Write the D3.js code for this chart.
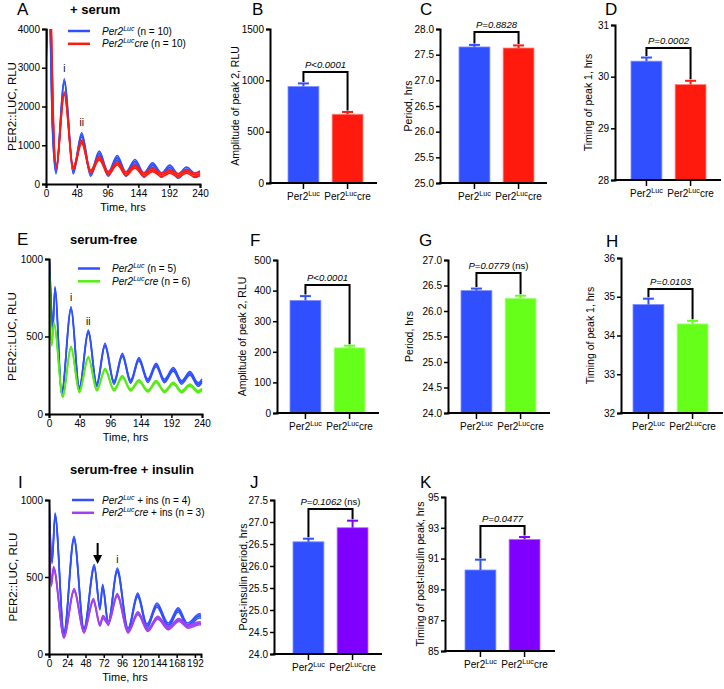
<!DOCTYPE html>
<html><head><meta charset="utf-8">
<script src="https://cdn.jsdelivr.net/npm/d3@7"></script>
<style>
body{margin:0;background:#fff}
text{font-family:Arial,"Liberation Sans",sans-serif}
</style></head>
<body><svg id="fig" width="724" height="689"></svg>
<script>
// ---------------- DATA ----------------
// Panel A (+ serum) time courses: hours / RLU
const aLucT = [0, 3, 6, 10, 15.6, 28.5, 42.5, 55.6, 69.6, 83, 97, 111, 124.6, 138.6, 152.6, 166, 180, 193, 206, 219, 232, 240];
const aLucV = [4300, 5200, 4400, 1500, 320, 2660, 320, 1265, 258, 792, 258, 680, 258, 575, 232, 490, 232, 430, 206, 378, 225, 280];
const aCreT = [0, 2, 5, 8, 11, 16, 28.5, 42.5, 55.6, 69.6, 83, 97, 111, 124.6, 138.6, 152.6, 166, 180, 193, 206, 219, 232, 240];
const aCreV = [3100, 4100, 5000, 4200, 1900, 450, 2340, 405, 1092, 318, 663, 276, 533, 262, 447, 240, 361, 232, 318, 225, 318, 235, 258];
const aLucSem = 60, aCreSem = 45;
// Panel E (serum-free)
const eLucT = [0, 2.5, 5.8, 9.4, 19.9, 34.5, 47.6, 61.7, 74.8, 87.8, 102, 115, 128, 141, 155, 168, 181, 195, 208, 221, 234, 240];
const eLucV = [1050, 800, 542, 811, 133, 682, 165, 531, 187, 445, 202, 381, 209, 353, 215, 316, 213, 288, 204, 262, 190, 215];
const eCreT = [0, 4.2, 7.8, 21.5, 34.5, 47.6, 61.7, 75, 88, 102, 115, 128, 141, 155, 168, 181, 195, 208, 221, 234, 240];
const eCreV = [1000, 445, 585, 112, 430, 144, 365, 155, 288, 155, 241, 155, 215, 148, 209, 144, 198, 144, 187, 144, 159];
const eLucSem = 12, eCreSem = 7;
// Panel I (serum-free + insulin)
const iLucT = [0, 4, 8, 19.7, 32.9, 46, 59.6, 67, 70.6, 78, 89.8, 104, 116.6, 129, 142, 157, 170, 182, 198, 200];
const iLucV = [1000, 600, 902, 134, 751, 156, 567, 300, 440, 199, 545, 156, 383, 182, 318, 188, 286, 188, 247, 245];
const iCreT = [0, 3, 6, 19.7, 33, 46, 58.4, 67, 71, 78, 89.8, 104, 117, 130, 143, 157, 171, 183, 198, 200];
const iCreV = [900, 448, 558, 112, 415, 145, 350, 190, 240, 200, 383, 145, 264, 156, 236, 167, 221, 177, 199, 197];
const iLucSem = 14, iCreSem = 10;
const insulinHour = 64;

// Bar panels
const groups = ["Per2Luc", "Per2Luccre"];
const bMeans = [940, 670],   bErr = [30, 22],   bP = "P<0.0001";
const cMeans = [27.65, 27.63], cErr = [0.04, 0.05], cP = "P=0.8828";
const dMeans = [30.30, 29.85], dErr = [0.07, 0.07], dP = "P=0.0002";
const fMeans = [368, 213],   fErr = [14, 7],    fP = "P<0.0001";
const gMeans = [26.40, 26.25], gErr = [0.04, 0.05], gP = "P=0.0779";
const hMeans = [34.80, 34.30], hErr = [0.15, 0.08], hP = "P=0.0103";
const jMeans = [26.55, 26.87], jErr = [0.07, 0.16], jP = "P=0.1062";
const kMeans = [90.26, 92.25], kErr = [0.67, 0.15], kP = "P=0.0477";

// tick values
const tsTicks240 = [0, 48, 96, 144, 192, 240];
const tsTicks192 = [0, 24, 48, 72, 96, 120, 144, 168, 192];

// ---------------- STYLE ----------------
const C = {
  blue: "#3050ff", blueBand: "#95a6ff",
  red: "#ff1a0d", redBand: "#ff9a90",
  greenLine: "#55ee11", greenBar: "#66ff1a", greenBand: "#b4ff8a",
  purpleLine: "#a040f0", purpleBar: "#7f00ff", purpleBand: "#d6aaff"
};
const svg = d3.select("#fig");
svg.append("rect").attr("width", 724).attr("height", 689).attr("fill", "#fff");

function styleAxis(g) {
  g.selectAll("path.domain").attr("stroke", "#000").attr("stroke-width", 2);
  g.selectAll(".tick line").attr("stroke", "#000").attr("stroke-width", 1.5);
  g.selectAll(".tick text").attr("font-size", 10).attr("fill", "#000").attr("font-family", "Arial, 'Liberation Sans', sans-serif");
}

function letter(txt, x, y) {
  svg.append("text").attr("x", x).attr("y", y).attr("font-size", 17).attr("fill", "#000").text(txt);
}

function yTitle(txt, x, yc, size) {
  svg.append("text").attr("transform", `translate(${x},${yc}) rotate(-90)`)
    .attr("text-anchor", "middle").attr("dy", "0.35em").attr("font-size", size || 10.5).attr("fill", "#000").text(txt);
}

function groupLabel(sel, name, size) {
  sel.text(null);
  sel.append("tspan").text("Per2");
  sel.append("tspan").attr("font-size", size * 0.72).attr("dy", -size * 0.4).text("Luc");
  if (name.endsWith("cre")) sel.append("tspan").attr("font-size", size).attr("dy", size * 0.4).text("cre");
}

// ---------------- TIME SERIES ----------------
function timePanel(cfg) {
  const x = d3.scaleLinear().domain(cfg.xDomain).range([cfg.x0, cfg.x1]);
  const y = d3.scaleLinear().domain(cfg.yDomain).range([cfg.yBot, cfg.yTop]);
  const clipId = "clip" + cfg.id;
  svg.append("clipPath").attr("id", clipId).append("rect")
    .attr("x", cfg.x0).attr("y", cfg.yTop).attr("width", cfg.x1 - cfg.x0 + 6).attr("height", cfg.yBot - cfg.yTop);
  const plot = svg.append("g").attr("clip-path", `url(#${clipId})`);
  cfg.series.forEach(s => {
    const pts = s.t.map((t, i) => ({ t, v: s.v[i] }));
    const area = d3.area().x(d => x(d.t)).y0(d => y(d.v - s.sem)).y1(d => y(d.v + s.sem)).curve(d3.curveMonotoneX);
    const line = d3.line().x(d => x(d.t)).curve(d3.curveMonotoneX);
    plot.append("path").datum(pts).attr("d", area).attr("fill", s.band);
    plot.append("path").datum(pts).attr("d", line.y(d => y(d.v + s.sem))).attr("fill", "none").attr("stroke", s.color).attr("stroke-width", 1.4);
    plot.append("path").datum(pts).attr("d", line.y(d => y(d.v - s.sem))).attr("fill", "none").attr("stroke", s.color).attr("stroke-width", 1.4);
    plot.append("path").datum(pts).attr("d", line.y(d => y(d.v))).attr("fill", "none").attr("stroke", s.color).attr("stroke-width", 1.8);
  });
  const gx = svg.append("g").attr("transform", `translate(0,${cfg.yBot})`)
    .call(d3.axisBottom(x).tickValues(cfg.xTicks).tickFormat(d3.format("d")).tickSizeOuter(0).tickSize(4).tickPadding(2));
  styleAxis(gx);
  const gy = svg.append("g").attr("transform", `translate(${cfg.x0},0)`)
    .call(d3.axisLeft(y).tickValues(cfg.yTicks).tickFormat(d3.format("d")).tickSizeOuter(0).tickSize(4).tickPadding(2));
  styleAxis(gy);
  svg.append("text").attr("x", (cfg.x0 + cfg.x1) / 2).attr("y", cfg.yBot + 27)
    .attr("text-anchor", "middle").attr("font-size", 11).attr("fill", "#000").text("Time, hrs");
  yTitle("PER2::LUC, RLU", cfg.titleX, (cfg.yTop + cfg.yBot) / 2, 11.5);
  // legend
  cfg.series.forEach((s, i) => {
    const ly = cfg.legY + i * 12.8;
    svg.append("line").attr("x1", cfg.legX).attr("x2", cfg.legX + 22).attr("y1", ly).attr("y2", ly)
      .attr("stroke", s.color).attr("stroke-width", 2.5);
    const t = svg.append("text").attr("x", cfg.legTextX).attr("y", ly + 3.5).attr("font-size", 10).attr("fill", "#000");
    t.append("tspan").attr("font-style", "italic").text("Per2");
    t.append("tspan").attr("font-style", "italic").attr("font-size", 7).attr("dy", -4).text("Luc");
    if (i === 1) t.append("tspan").attr("font-style", "italic").attr("dy", 4).text("cre");
    t.append("tspan").attr("dy", i === 1 ? 0 : 4).text(" " + s.legendTail);
  });
  // peak annotations
  (cfg.peaks || []).forEach(p => {
    svg.append("text").attr("x", x(p.t)).attr("y", y(p.v) - 4).attr("text-anchor", "middle")
      .attr("font-size", 10).attr("fill", "#000").text(p.label);
  });
  return { x, y };
}

const A = timePanel({
  id: "A", x0: 46, x1: 200, yTop: 29, yBot: 184, xDomain: [0, 240], yDomain: [0, 4000],
  xTicks: tsTicks240, yTicks: [0, 1000, 2000, 3000, 4000], titleX: 12,
  legX: 68, legY: 31, legTextX: 102,
  series: [
    { t: aLucT, v: aLucV, sem: aLucSem, color: C.blue, band: C.blueBand, legendTail: "(n = 10)" },
    { t: aCreT, v: aCreV, sem: aCreSem, color: C.red, band: C.redBand, legendTail: "(n = 10)" }
  ],
  peaks: [{ t: aLucT[5], v: aLucV[5] + 120, label: "i" }, { t: aLucT[7], v: aLucV[7] + 120, label: "ii" }]
});
letter("A", 17, 15);
svg.append("text").attr("x", 70).attr("y", 14).attr("font-size", 13).attr("font-weight", "bold").attr("fill", "#000").text("+ serum");

const E = timePanel({
  id: "E", x0: 49, x1: 202, yTop: 259, yBot: 414, xDomain: [0, 240], yDomain: [0, 1000],
  xTicks: tsTicks240, yTicks: [0, 500, 1000], titleX: 12,
  legX: 78, legY: 268.5, legTextX: 112,
  series: [
    { t: eLucT, v: eLucV, sem: eLucSem, color: C.blue, band: C.blueBand, legendTail: "(n = 5)" },
    { t: eCreT, v: eCreV, sem: eCreSem, color: C.greenLine, band: C.greenBand, legendTail: "(n = 6)" }
  ],
  peaks: [{ t: eLucT[5], v: eLucV[5] + 20, label: "i" }, { t: eLucT[7], v: eLucV[7] + 20, label: "ii" }]
});
letter("E", 17, 245);
svg.append("text").attr("x", 70).attr("y", 244).attr("font-size", 13).attr("font-weight", "bold").attr("fill", "#000").text("serum-free");

const I = timePanel({
  id: "I", x0: 49, x1: 201, yTop: 500, yBot: 654, xDomain: [0, 200], yDomain: [0, 1000],
  xTicks: tsTicks192, yTicks: [0, 500, 1000], titleX: 13,
  legX: 72, legY: 500, legTextX: 102,
  series: [
    { t: iLucT, v: iLucV, sem: iLucSem, color: C.blue, band: C.blueBand, legendTail: "+ ins (n = 4)" },
    { t: iCreT, v: iCreV, sem: iCreSem, color: C.purpleLine, band: C.purpleBand, legendTail: "+ ins  (n = 3)" }
  ],
  peaks: [{ t: iLucT[10], v: iLucV[10] + 22, label: "i" }]
});
letter("I", 18, 488);
svg.append("text").attr("x", 70).attr("y", 474).attr("font-size", 13).attr("font-weight", "bold").attr("fill", "#000").text("serum-free + insulin");
// insulin arrow
{
  const ax = I.x(insulinHour);
  svg.append("line").attr("x1", ax).attr("x2", ax).attr("y1", 543).attr("y2", 557).attr("stroke", "#000").attr("stroke-width", 2);
  svg.append("path").attr("d", `M${ax - 4.5},555 L${ax + 4.5},555 L${ax},564 Z`).attr("fill", "#000");
}

// ---------------- BAR PANELS ----------------
function barPanel(cfg) {
  const y = d3.scaleLinear().domain(cfg.yDomain).range([cfg.yBot, cfg.yTop]);
  const x = d3.scaleBand().domain(groups).range([cfg.x0 + cfg.offset, cfg.x0 + cfg.offset + 75]).paddingInner(0.3);
  const g = svg.append("g");
  groups.forEach((gname, i) => {
    const m = cfg.means[i], e = cfg.errs[i];
    const cx = x(gname) + x.bandwidth() / 2;
    g.append("rect").attr("x", x(gname)).attr("y", y(m)).attr("width", x.bandwidth()).attr("height", cfg.yBot - y(m))
      .attr("fill", cfg.colors[i]).attr("stroke", cfg.edge[i]).attr("stroke-width", 0.8);
    g.append("line").attr("x1", cx).attr("x2", cx).attr("y1", y(m)).attr("y2", y(m + e)).attr("stroke", cfg.colors[i]).attr("stroke-width", 2);
    g.append("line").attr("x1", cx - 5.5).attr("x2", cx + 5.5).attr("y1", y(m + e)).attr("y2", y(m + e)).attr("stroke", cfg.colors[i]).attr("stroke-width", 2);
  });
  // bracket
  const c1 = x(groups[0]) + x.bandwidth() / 2, c2 = x(groups[1]) + x.bandwidth() / 2;
  const e1 = y(cfg.means[0] + cfg.errs[0]) - 1.5, e2 = y(cfg.means[1] + cfg.errs[1]) - 1.5;
  g.append("path").attr("d", `M${c1},${e1} V${cfg.bracketY} H${c2} V${e2}`)
    .attr("fill", "none").attr("stroke", "#000").attr("stroke-width", 2);
  const pt = g.append("text").attr("x", (c1 + c2) / 2).attr("y", cfg.bracketY - 4).attr("text-anchor", "middle").attr("font-size", 9.5).attr("fill", "#000");
  pt.append("tspan").attr("font-style", "italic").text(cfg.p);
  if (cfg.ns) pt.append("tspan").text(" (ns)");
  // axes
  const gy = svg.append("g").attr("transform", `translate(${cfg.x0},0)`)
    .call(d3.axisLeft(y).tickValues(cfg.ticks).tickFormat(d3.format(cfg.fmt)).tickSizeOuter(0).tickSize(4).tickPadding(2));
  styleAxis(gy);
  svg.append("line").attr("x1", cfg.x0 - 1).attr("x2", cfg.x0 + cfg.axisLen).attr("y1", cfg.yBot).attr("y2", cfg.yBot)
    .attr("stroke", "#000").attr("stroke-width", 2);
  const gx = svg.append("g").attr("transform", `translate(0,${cfg.yBot})`)
    .call(d3.axisBottom(x).tickSizeOuter(0).tickSize(6).tickPadding(4));
  gx.select("path.domain").remove();
  styleAxis(gx);
  gx.selectAll(".tick text").attr("font-size", 10).each(function (d) { groupLabel(d3.select(this), d, 10); });
  yTitle(cfg.title, cfg.titleX, (cfg.yTop + cfg.yBot) / 2, 10.5);
  letter(cfg.letter, cfg.lx, cfg.ly);
}

const redPair = [C.blue, C.red], redEdge = ["#8090ff", "#ff8a80"];
const greenPair = [C.blue, C.greenBar], greenEdge = ["#8090ff", "#b0ff90"];
const purplePair = [C.blue, C.purpleBar], purpleEdge = ["#8090ff", "#b070ff"];

barPanel({ letter: "B", lx: 252, ly: 15, x0: 270, offset: 18, axisLen: 107, yTop: 29, yBot: 183, yDomain: [0, 1500],
  ticks: [0, 500, 1000, 1500], fmt: "d", means: bMeans, errs: bErr, p: bP, bracketY: 72, colors: redPair, edge: redEdge,
  title: "Amplitude of peak 2, RLU", titleX: 235 });
barPanel({ letter: "C", lx: 420, ly: 15, x0: 440, offset: 19, axisLen: 107, yTop: 29, yBot: 183, yDomain: [25, 28],
  ticks: [25, 25.5, 26, 26.5, 27, 27.5, 28], fmt: ".1f", means: cMeans, errs: cErr, p: cP, bracketY: 32, colors: redPair, edge: redEdge,
  title: "Period, hrs", titleX: 408 });
barPanel({ letter: "D", lx: 605, ly: 15, x0: 615, offset: 16, axisLen: 106, yTop: 25, yBot: 180, yDomain: [28, 31],
  ticks: [28, 29, 30, 31], fmt: "d", means: dMeans, errs: dErr, p: dP, bracketY: 48, colors: redPair, edge: redEdge,
  title: "Timing of peak 1, hrs", titleX: 588 });
barPanel({ letter: "F", lx: 250, ly: 246, x0: 277, offset: 13, axisLen: 102, yTop: 260, yBot: 413, yDomain: [0, 500],
  ticks: [0, 100, 200, 300, 400, 500], fmt: "d", means: fMeans, errs: fErr, p: fP, bracketY: 285, colors: greenPair, edge: greenEdge,
  title: "Amplitude of peak 2, RLU", titleX: 242 });
barPanel({ letter: "G", lx: 419, ly: 246, x0: 448, offset: 13, axisLen: 102, yTop: 260, yBot: 413, yDomain: [24, 27],
  ticks: [24, 24.5, 25, 25.5, 26, 26.5, 27], fmt: ".1f", means: gMeans, errs: gErr, p: gP, ns: true, bracketY: 273, colors: greenPair, edge: greenEdge,
  title: "Period, hrs", titleX: 409 });
barPanel({ letter: "H", lx: 606, ly: 247, x0: 621, offset: 12, axisLen: 102, yTop: 258, yBot: 413, yDomain: [32, 36],
  ticks: [32, 33, 34, 35, 36], fmt: "d", means: hMeans, errs: hErr, p: hP, bracketY: 289, colors: greenPair, edge: greenEdge,
  title: "Timing of peak 1, hrs", titleX: 590 });
barPanel({ letter: "J", lx: 250, ly: 488, x0: 274, offset: 19, axisLen: 108, yTop: 500, yBot: 654, yDomain: [24, 27.5],
  ticks: [24, 24.5, 25, 25.5, 26, 26.5, 27, 27.5], fmt: ".1f", means: jMeans, errs: jErr, p: jP, ns: true, bracketY: 509, colors: purplePair, edge: purpleEdge,
  title: "Post-insulin period, hrs", titleX: 243 });
barPanel({ letter: "K", lx: 420, ly: 488, x0: 445, offset: 20, axisLen: 110, yTop: 497, yBot: 651, yDomain: [85, 95],
  ticks: [85, 87, 89, 91, 93, 95], fmt: "d", means: kMeans, errs: kErr, p: kP, bracketY: 526, colors: purplePair, edge: purpleEdge,
  title: "Timing of post-insulin peak, hrs", titleX: 420 });
</script>
</body></html>
